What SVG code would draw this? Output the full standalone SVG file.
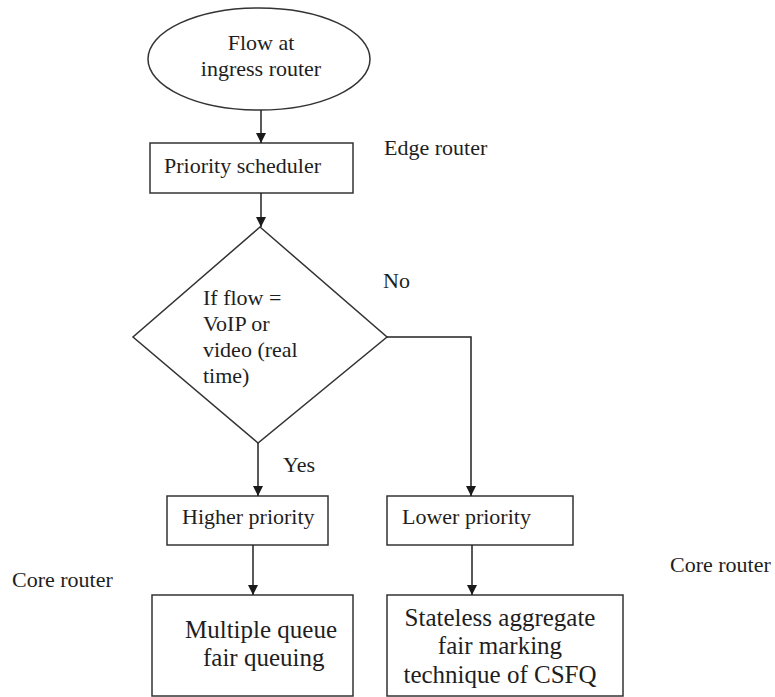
<svg xmlns="http://www.w3.org/2000/svg" width="775" height="697" viewBox="0 0 775 697">
<defs>
<marker id="arr" viewBox="0 0 10 10" refX="10" refY="5" markerWidth="10" markerHeight="10" markerUnits="userSpaceOnUse" orient="auto">
<path d="M0,0 L10,5 L0,10 z" fill="#1a1a1a"/>
</marker>
</defs>
<style>
.shape{fill:#fff;stroke:#333;stroke-width:1.5}
.t{font-family:"Liberation Serif","Times New Roman",serif;font-size:22px;fill:#1e1e1e}
.tb{font-family:"Liberation Serif","Times New Roman",serif;font-size:25px;fill:#1e1e1e}
.c{text-anchor:middle}
.line{fill:none;stroke:#222;stroke-width:1.5}
</style>
<rect width="775" height="697" fill="#fff"/>
<g id="start">
<ellipse class="shape" cx="259" cy="59" rx="111" ry="51"/>
<text class="t c" x="261" y="50">Flow at</text>
<text class="t c" x="261" y="76">ingress router</text>
</g>
<g id="scheduler">
<rect class="shape" x="150" y="143" width="203" height="50"/>
<text class="t" x="164" y="173">Priority scheduler</text>
</g>
<g id="decision">
<polygon class="shape" points="260,227 387,337 258,443 133,337"/>
<text class="t" x="203" y="305">If flow =</text>
<text class="t" x="203" y="331">VoIP or</text>
<text class="t" x="203" y="357">video (real</text>
<text class="t" x="203" y="383">time)</text>
</g>
<g id="higher">
<rect class="shape" x="167" y="496" width="161" height="49"/>
<text class="t" x="182" y="524">Higher priority</text>
</g>
<g id="lower">
<rect class="shape" x="387" y="496" width="186" height="49"/>
<text class="t" x="402" y="524">Lower priority</text>
</g>
<g id="mqfq">
<rect class="shape" x="152" y="595" width="201" height="101"/>
<text class="tb" x="185" y="638">Multiple queue</text>
<text class="tb" x="203" y="666">fair queuing</text>
</g>
<g id="csfq">
<rect class="shape" x="387" y="595" width="236" height="101"/>
<text class="tb c" x="500" y="626">Stateless aggregate</text>
<text class="tb c" x="500" y="654">fair marking</text>
<text class="tb c" x="500" y="683">technique of CSFQ</text>
</g>
<g id="labels">
<text class="t" x="384" y="155">Edge router</text>
<text class="t" x="383" y="288">No</text>
<text class="t" x="283" y="472">Yes</text>
<text class="t" x="12" y="587">Core router</text>
<text class="t" x="670" y="572">Core router</text>
</g>
<g id="connectors">
<line class="line" x1="261" y1="110" x2="261" y2="143" marker-end="url(#arr)"/>
<line class="line" x1="261" y1="193" x2="261" y2="227" marker-end="url(#arr)"/>
<line class="line" x1="258" y1="443" x2="258" y2="496" marker-end="url(#arr)"/>
<polyline class="line" points="387,337 471,337 471,496" marker-end="url(#arr)"/>
<line class="line" x1="253" y1="545" x2="253" y2="595" marker-end="url(#arr)"/>
<line class="line" x1="472" y1="545" x2="472" y2="595" marker-end="url(#arr)"/>
</g>
</svg>
